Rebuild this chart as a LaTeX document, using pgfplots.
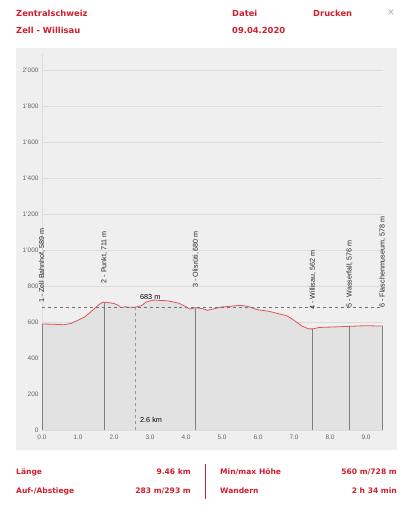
\documentclass[border=0pt]{standalone}
\usepackage{pgfplots}
\pgfplotsset{compat=1.18}
\usepackage{fontspec}
\setmainfont{Liberation Sans}
\newfontfamily\verd{DejaVu Sans}
\definecolor{hred}{HTML}{CC1F2F}
\definecolor{panel}{HTML}{EFEFEF}
\definecolor{area}{HTML}{E2E2E2}
\definecolor{lred}{HTML}{E05555}
\definecolor{gridc}{HTML}{DCDCDC}
\definecolor{tickc}{HTML}{666666}
\pgfplotstableread{
km elev
0.00 589
0.30 588
0.60 585
0.80 592
1.00 610
1.20 630
1.40 665
1.60 700
1.70 711
1.85 708
2.00 703
2.10 695
2.20 680
2.30 685
2.45 682
2.60 683
2.75 690
2.90 712
3.10 722
3.30 720
3.50 718
3.80 705
4.00 685
4.10 672
4.27 680
4.45 675
4.60 665
4.80 675
5.00 684
5.20 687
5.50 693
5.70 688
6.00 668
6.30 660
6.50 650
6.80 635
7.00 610
7.20 580
7.40 562
7.52 562
7.70 570
8.00 572
8.54 576
9.00 580
9.30 578
9.46 578
}\profile
\pgfplotstableread{
km elev
0.00 589
1.73 711
4.27 680
7.52 562
8.54 576
9.46 578
}\wpts
\begin{document}
\begin{tikzpicture}
\begin{scope}[x=1bp,y=1bp]
\useasboundingbox (0,0) rectangle (408,512);
\fill[white] (0,0) rectangle (408,512);
\fill[panel] (16,62) rectangle (397,464);
% header
\begin{scope}[every node/.style={inner sep=0pt}, font=\verd\bfseries\fontsize{8.4}{10}\selectfont, text=hred]
\node[anchor=west] at (16,499) {Zentralschweiz};
\node[anchor=west] at (16,482) {Zell - Willisau};
\node[anchor=west] at (232,499) {Datei};
\node[anchor=west] at (232,482) {09.04.2020};
\node[anchor=west] at (313,499) {Drucken};
\end{scope}
\node[text=gray!60, font=\verd\fontsize{10}{12}\selectfont] at (391,499) {×};
% footer
\begin{scope}[every node/.style={inner sep=0pt}, font=\verd\bfseries\fontsize{7.6}{9}\selectfont, text=hred]
\node[anchor=west] at (16,40) {Länge};
\node[anchor=east] at (191,40) {9.46 km};
\node[anchor=west] at (16,21) {Auf-/Abstiege};
\node[anchor=east] at (191,21) {283 m/293 m};
\node[anchor=west] at (220,40) {Min/max Höhe};
\node[anchor=east] at (397,40) {560 m/728 m};
\node[anchor=west] at (220,21) {Wandern};
\node[anchor=east] at (397,21) {2 h 34 min};
\end{scope}
\draw[hred, line width=0.8] (205,13) -- (205,48);
\end{scope}
\begin{axis}[
  at={(42bp,82bp)}, anchor=south west,
  scale only axis, width=340.6bp, height=376bp,
  xmin=0, xmax=9.46, ymin=0, ymax=2090,
  axis x line=none,
  axis y line*=left,
  y axis line style={gridc, -},
  ytick={0,200,...,2000},
  yticklabels={0,200,400,600,800,1'000,1'200,1'400,1'600,1'800,2'000},
  xtick={0,1,...,9},
  ymajorgrids, grid style={gridc, line width=0.5},
  major tick length=0pt,
  tick label style={font=\fontsize{6.5}{7}\selectfont, text=tickc},
  clip=false,
]
\addplot[draw=none, fill=area] table[x=km,y=elev] {\profile} \closedcycle;
\addplot[lred, line width=0.8] table[x=km,y=elev] {\profile};
\addplot[ycomb, draw=black!50, line width=0.6, mark=none] table[x=km,y=elev] {\wpts};
\addplot[black!55, dashed, line width=0.5] coordinates {(0,683) (9.46,683)};
\addplot[black!40, dashed, line width=0.6] coordinates {(2.6,0) (2.6,683)};
\node[anchor=west, font=\fontsize{7.3}{8}\selectfont, inner sep=0pt] at (axis cs:2.72,738) {683 m};
\node[anchor=west, font=\fontsize{7.3}{8}\selectfont, inner sep=0pt] at (axis cs:2.72,55) {2.6 km};
\begin{scope}[every node/.style={rotate=90, anchor=west, font=\fontsize{7.2}{8}\selectfont, text=black!85, inner sep=0pt}]
\node at (axis cs:0.00,706) {1 - Zell Bahnhof, 589 m};
\node at (axis cs:1.73,815) {2 - Punkt, 711 m};
\node at (axis cs:4.27,790) {3 - Olisrüti, 680 m};
\node at (axis cs:7.52,668) {4 - Willisau, 562 m};
\node at (axis cs:8.54,678) {5 - Wasserfall, 576 m};
\node at (axis cs:9.46,680) {6 - Flaschenmuseum, 578 m};
\end{scope}
\foreach \t in {0,...,9} {
  \edef\tmp{\noexpand\node[font=\noexpand\fontsize{6.5}{7}\noexpand\selectfont, text=tickc] at (axis cs:\t,-40) {\t.0};}
  \tmp
}
\end{axis}
\end{tikzpicture}
\end{document}
